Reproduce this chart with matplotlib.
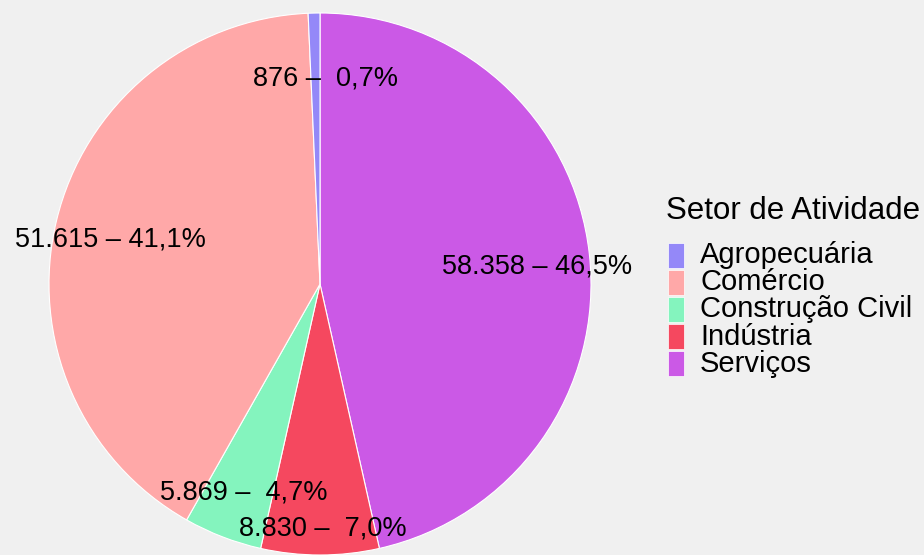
import matplotlib
matplotlib.use("Agg")
import matplotlib.pyplot as plt
from matplotlib.patches import Rectangle
import numpy as np

plt.rcParams['font.family'] = ['Liberation Sans', 'DejaVu Sans']

# Data (legend / alphabetical order)
categories = ["Agropecuária", "Comércio", "Construção Civil", "Indústria", "Serviços"]
values = [876, 51615, 5869, 8830, 58358]
pct_labels = ["0,7", "41,1", "4,7", "7,0", "46,5"]
count_labels = ["876", "51.615", "5.869", "8.830", "58.358"]
colors = ["#9488F8", "#FFA8A8", "#84F4BE", "#F5485F", "#CB59E6"]

# drawing order clockwise from top
draw_order = [4, 3, 2, 1, 0]
label_radius = {0: 0.78, 1: 0.80, 2: 0.80, 3: 0.88, 4: 0.80}
label_nudge_px = {0: 10, 1: 1, 2: 2, 3: 3, 4: 2}

bg = "#F0F0F0"
W, H = 924, 555
fig = plt.figure(figsize=(W / 100, H / 100), dpi=100, facecolor=bg)

cx, cy, R = 320, 284, 271  # cy measured from top
ax = fig.add_axes([(cx - R) / W, (H - cy - R) / H, 2 * R / W, 2 * R / H])
ax.set_facecolor(bg)
ax.axis("off")

vals = [values[i] for i in draw_order]
cols = [colors[i] for i in draw_order]
wedges, _ = ax.pie(vals, colors=cols, startangle=90, counterclock=False, radius=1,
                   wedgeprops=dict(edgecolor="white", linewidth=0.8))
ax.set_xlim(-1, 1)
ax.set_ylim(-1, 1)
ax.set_aspect("equal")

total = sum(values)
cum = 0.0
for i in draw_order:
    frac = values[i] / total
    mid = cum + frac / 2
    cum += frac
    theta = np.deg2rad(90 - mid * 360)
    r = label_radius[i]
    txt = f"{count_labels[i]} – {pct_labels[i]:>4}%"
    ax.annotate(txt, (r * np.cos(theta), r * np.sin(theta)), xytext=(label_nudge_px[i], -6),
                textcoords="offset pixels", ha="center", va="center",
                fontsize=19.5, color="black")

# Legend (manual)
fig.text(666 / W, 1 - 211 / H, "Setor de Atividade", fontsize=22.5, ha="left", va="center")
row_h = 27.2
y0 = 255
for k, (cat, col) in enumerate(zip(categories, colors)):
    yc = y0 + k * row_h
    fig.patches.append(Rectangle((668 / W, 1 - (yc + 12.5) / H), 16 / W, 25 / H,
                                 transform=fig.transFigure, facecolor=col,
                                 edgecolor="white", linewidth=0.5))
    fig.text(700 / W, 1 - yc / H, cat, fontsize=21, ha="left", va="center")

fig.savefig("out.png", dpi=100, facecolor=bg)
